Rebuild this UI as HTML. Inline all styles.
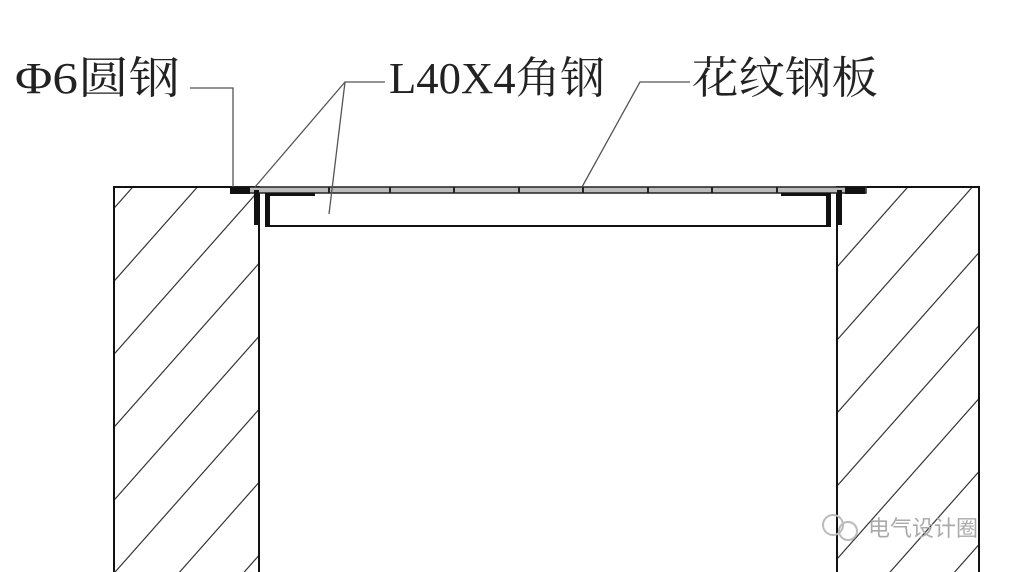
<!DOCTYPE html>
<html><head><meta charset="utf-8"><style>
html,body{margin:0;padding:0;background:#fff;width:1024px;height:572px;overflow:hidden}
svg{display:block}
text{font-family:"Liberation Serif","Noto Serif CJK SC",serif;fill:#222}
</style></head><body>
<svg width="1024" height="572" viewBox="0 0 1024 572" xmlns="http://www.w3.org/2000/svg">
<defs>
<pattern id="hatch" patternUnits="userSpaceOnUse" width="20" height="73" patternTransform="skewY(-48.5)">
<rect x="0" y="44.2" width="20" height="1.8" fill="#333"/>
</pattern>
</defs>
<rect x="115" y="188" width="143" height="384" fill="url(#hatch)"/>
<rect x="838" y="188" width="140" height="384" fill="url(#hatch)"/>
<g stroke="#111" stroke-width="2" fill="none">
<polyline points="114,572 114,187 259,187 259,572"/>
<polyline points="837,572 837,187 979,187 979,572"/>
</g>
<rect x="232" y="187" width="634" height="6" fill="#bbb" stroke="#222" stroke-width="1.5"/>
<g stroke="#222" stroke-width="2">
<line x1="390" y1="187" x2="390" y2="193"/><line x1="454" y1="187" x2="454" y2="193"/>
<line x1="519" y1="187" x2="519" y2="193"/><line x1="583" y1="187" x2="583" y2="193"/>
<line x1="648" y1="187" x2="648" y2="193"/><line x1="712" y1="187" x2="712" y2="193"/>
<line x1="777" y1="187" x2="777" y2="193"/><line x1="329" y1="187" x2="329" y2="193"/>
</g>
<rect x="230" y="187" width="20" height="7" fill="#111"/>
<rect x="845" y="187" width="20" height="7" fill="#111"/>
<rect x="254" y="190" width="5" height="35" fill="#111"/>
<rect x="837" y="190" width="5" height="35" fill="#111"/>
<rect x="265" y="193" width="5" height="34" fill="#111"/>
<rect x="826" y="193" width="5" height="34" fill="#111"/>
<rect x="265" y="193" width="50" height="3" fill="#111"/>
<rect x="781" y="193" width="50" height="3" fill="#111"/>
<line x1="265" y1="226" x2="831" y2="226" stroke="#111" stroke-width="2"/>
<g stroke="#555" stroke-width="1.3" fill="none">
<polyline points="190,88 233,88 233,187"/>
<polyline points="385,82 345,82 255,187"/>
<line x1="345" y1="82" x2="329" y2="214"/>
<polyline points="690,82 640,82 582,187"/>
</g>
<text x="15" y="93" font-size="44" textLength="165" lengthAdjust="spacingAndGlyphs">Φ6圆钢</text>
<text x="389" y="93" font-size="44" textLength="216" lengthAdjust="spacingAndGlyphs">L40X4角钢</text>
<text x="692" y="93" font-size="44" textLength="186" lengthAdjust="spacingAndGlyphs">花纹钢板</text>
<text x="868" y="536" font-size="22" style="fill:#aaa;font-family:'Liberation Sans','Noto Sans CJK SC',sans-serif">电气设计圈</text>
<circle cx="833" cy="525" r="10" fill="none" stroke="#bbb" stroke-width="2"/>
<circle cx="848" cy="531" r="9" fill="none" stroke="#bbb" stroke-width="2"/>
</svg>
</body></html>
